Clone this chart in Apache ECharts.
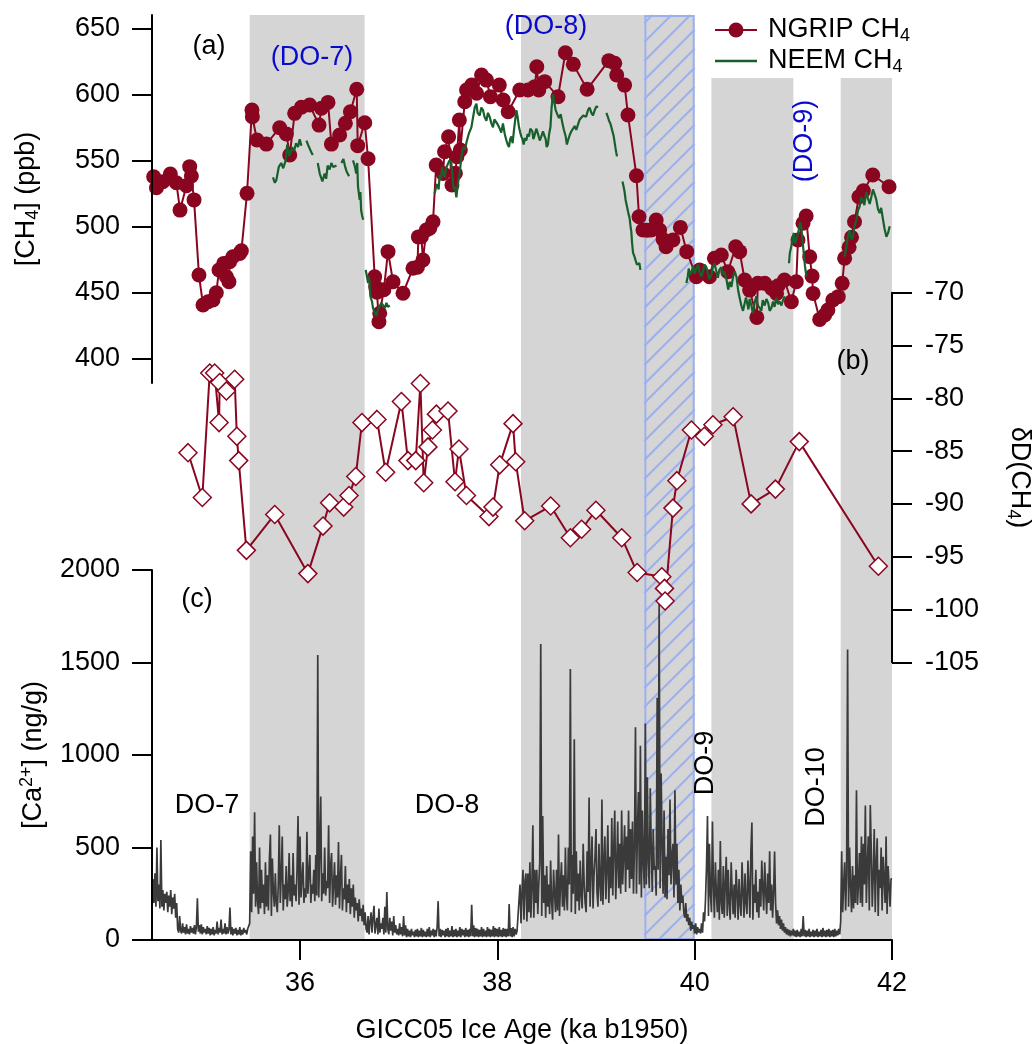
<!DOCTYPE html>
<html>
<head>
<meta charset="utf-8">
<script src="https://cdn.jsdelivr.net/npm/echarts@6/dist/echarts.min.js"></script>
<style>
  html, body { margin: 0; padding: 0; background: #fff; }
  #chart { width: 1035px; height: 1044px; }
</style>
</head>
<body>
<div id="chart"></div>
<script>
// ---- tick values ----
const ageTicks = [36, 38, 40, 42];
const ch4Ticks = [400, 450, 500, 550, 600, 650];

// ---- shaded intervals (ka b1950) ----
const grayBandStart = [35.49, 38.24, 40.17, 41.48];
const grayBandEnd   = [36.655, 39.49, 41.0, 42.0];
const hatchBand     = [39.49, 40.0];

// ---- NGRIP CH4 (ka, ppb) ----
const ngripCH4 = [
  [34.517,537.6],[34.545,529.2],[34.61,533.8],[34.686,539.6],[34.747,533.0],[34.784,512.3],
  [34.849,530.8],[34.882,545.2],[34.899,538.1],[34.926,520],[34.976,463.1],[35.017,440.4],
  [35.068,442.9],[35.118,444.2],[35.152,449.7],[35.179,466.9],[35.227,471.9],[35.254,461.8],
  [35.28,458],[35.287,473.2],[35.32,477],[35.389,479.5],[35.406,481.5],[35.463,525],
  [35.513,588.1],[35.517,583],[35.564,565.4],[35.659,562.3],[35.794,574.7],[35.862,570],
  [35.896,554],[35.946,585.6],[36.014,590.2],[36.098,591.9],[36.193,576.7],[36.217,589.4],
  [36.284,593.9],[36.318,562.3],[36.402,569.2],[36.46,578],[36.511,586.8],[36.575,603.8],
  [36.585,561.1],[36.656,578.5],[36.69,551.2],[36.757,461.8],[36.767,454.2],[36.78,450],
  [36.80,427.7],[36.808,434.1],[36.85,452],[36.892,480.8],[36.943,458],[37.044,449.3],
  [37.145,468.2],[37.19,469],[37.2,492],[37.23,492.1],[37.246,474.5],[37.28,497.2],
  [37.315,498.5],[37.348,503.5],[37.38,546.4],[37.449,540],[37.465,556.5],[37.506,567.9],
  [37.54,531.3],[37.575,540.2],[37.59,552.7],[37.615,580.5],[37.625,557.8],[37.67,594.4],
  [37.688,603.3],[37.74,607],[37.79,600.8],[37.84,614.6],[37.89,610.8],[37.93,598.2],
  [38.02,607],[38.06,595.7],[38.11,586.8],[38.227,603.3],[38.31,603.3],[38.38,605.8],
  [38.40,620.9],[38.42,603.3],[38.48,609.6],[38.615,598.2],[38.69,631.5],[38.77,622.7],
  [38.91,603.8],[39.13,625.5],[39.19,623.5],[39.21,614.6],[39.29,607],[39.324,584.3],
  [39.41,538.3],[39.436,507.3],[39.476,497.2],[39.52,497],[39.56,497.2],[39.61,504.8],
  [39.645,497.2],[39.68,490],[39.71,484.5],[39.78,489.6],[39.855,499.2],[39.92,480.8],
  [40.017,461.8],[40.05,466.9],[40.15,461.8],[40.20,475.8],[40.27,478.3],[40.336,465.6],
  [40.416,484.5],[40.456,480.8],[40.507,459.3],[40.557,451.7],[40.63,431],[40.64,456.8],
  [40.71,456.8],[40.78,453],[40.83,449.2],[40.845,455],[40.91,459.3],[40.98,442.9],
  [41.03,458],[41.047,489.6],[41.098,502.3],[41.13,507.8],[41.166,477],[41.19,462.3],
  [41.2,449.2],[41.267,429.5],[41.318,432.8],[41.35,436.6],[41.4,444.2],[41.455,446.7],
  [41.495,456.8],[41.52,475.8],[41.565,484.1],[41.59,491.7],[41.62,503.5],[41.665,522.4],
  [41.71,527],[41.805,538.9],[41.97,530]
];

// ---- NEEM CH4 (ka, ppb); null marks a gap in the record ----
const neemCH4 = [
  [35.726,537],[35.745,533],[35.76,535],[35.785,545],[35.81,548],[35.83,544],[35.855,550],
  [35.87,562],[35.89,553],[35.905,556],[35.92,560],[35.94,557],[35.96,563],[35.98,560],
  [35.997,566],[36.014,561],[36.04,null],
  [36.065,565],[36.08,562],[36.098,559],[36.115,556],[36.13,554],[36.15,null],
  [36.18,548],[36.2,540],[36.227,534],[36.25,540],[36.265,536],[36.28,546],[36.3,543],
  [36.318,548],[36.335,545],[36.35,544],[36.37,546],[36.39,null],
  [36.42,548],[36.44,551],[36.455,546],[36.47,542],[36.497,538],[36.52,null],
  [36.537,550],[36.554,546],[36.57,540],[36.58,548],[36.588,530],[36.605,520],[36.612,526],
  [36.62,512],[36.63,508],[36.64,505],[36.65,null],
  [36.666,467],[36.69,457],[36.70,462],[36.713,447],[36.73,443],[36.74,438],[36.76,434],
  [36.774,432],[36.79,437],[36.808,436],[36.825,442],[36.84,441],[36.86,438],[36.876,442],
  [36.89,439],[36.91,440],[37.0,null],
  [37.365,525],[37.38,530],[37.39,532],[37.405,528],[37.416,539],[37.43,536],[37.44,545],
  [37.455,540],[37.466,537],[37.48,544],[37.5,543],[37.515,550],[37.534,548],[37.545,538],
  [37.558,528],[37.57,530],[37.585,522],[37.6,532],[37.618,540],[37.635,552],[37.652,560],
  [37.67,558],[37.692,565],[37.71,570],[37.737,575],[37.755,583],[37.771,590],[37.788,593],
  [37.80,586],[37.821,584],[37.838,590],[37.855,588],[37.87,583],[37.889,580],[37.905,586],
  [37.922,583],[37.94,578],[37.956,575],[37.97,581],[37.99,582],[38.005,577],[38.024,574],
  [38.04,571],[38.057,578],[38.075,570],[38.092,565],[38.105,562],[38.118,560],[38.13,566],
  [38.142,568],[38.155,563],[38.166,571],[38.18,580],[38.193,588],[38.205,583],[38.22,575],
  [38.232,571],[38.244,568],[38.255,566],[38.267,562],[38.28,567],[38.294,565],[38.307,570],
  [38.32,568],[38.335,574],[38.355,572],[38.365,566],[38.378,569],[38.395,574],[38.412,570],
  [38.43,565],[38.445,568],[38.463,572],[38.475,569],[38.49,566],[38.5,560],[38.513,562],
  [38.525,570],[38.538,575],[38.55,590],[38.564,600],[38.578,594],[38.591,588],[38.607,585],
  [38.625,582],[38.642,585],[38.66,578],[38.675,573],[38.693,568],[38.705,562],[38.716,565],
  [38.733,569],[38.75,572],[38.767,571],[38.784,576],[38.8,573],[38.817,577],[38.835,581],
  [38.852,580],[38.87,584],[38.885,585],[38.9,583],[38.919,588],[38.935,590],[38.953,586],
  [38.97,584],[38.987,588],[39.005,591],[39.02,590],[39.06,null],
  [39.105,586],[39.12,583],[39.132,580],[39.145,578],[39.156,575],[39.17,571],[39.18,568],
  [39.196,560],[39.205,556],[39.213,553],[39.24,null],
  [39.268,534],[39.28,530],[39.29,526],[39.3,520],[39.314,515],[39.325,511],[39.341,506],
  [39.35,500],[39.358,496],[39.365,488],[39.375,480],[39.39,477],[39.402,474],[39.415,471],
  [39.426,470],[39.44,472],[39.45,467],[39.6,null],
  [39.916,457],[39.93,462],[39.94,468],[39.955,463],[39.967,465],[39.985,470],[40.0,464],
  [40.017,468],[40.035,471],[40.05,465],[40.068,462],[40.085,466],[40.1,471],[40.119,469],
  [40.135,464],[40.15,460],[40.169,463],[40.185,469],[40.2,472],[40.22,466],[40.235,461],
  [40.25,467],[40.27,469],[40.285,463],[40.3,466],[40.322,460],[40.34,452],[40.355,458],
  [40.372,454],[40.39,462],[40.405,466],[40.423,462],[40.44,452],[40.455,446],[40.473,440],
  [40.49,436],[40.507,437],[40.52,446],[40.535,441],[40.545,437],[40.557,445],[40.575,440],
  [40.59,434],[40.608,442],[40.625,447],[40.64,440],[40.66,438],[40.676,436],[40.69,444],
  [40.71,440],[40.727,445],[40.745,442],[40.76,436],[40.777,438],[40.795,443],[40.81,439],
  [40.828,446],[40.845,441],[40.86,443],[40.879,440],[40.895,444],[40.912,447],[40.935,null],
  [40.956,472],[40.965,480],[40.98,485],[40.99,490],[41.004,495],[41.015,487],[41.031,490],
  [41.045,494],[41.057,498],[41.068,503],[41.08,500],[41.09,492],[41.105,480],[41.118,470],
  [41.132,462],[41.3,null],
  [41.52,477],[41.532,482],[41.544,488],[41.558,494],[41.571,497],[41.588,490],[41.605,492],
  [41.62,500],[41.639,505],[41.655,512],[41.672,515],[41.69,522],[41.706,520],[41.72,516],
  [41.74,526],[41.757,521],[41.774,517],[41.79,522],[41.807,528],[41.825,524],[41.841,520],
  [41.858,513],[41.875,510],[41.89,514],[41.909,505],[41.925,498],[41.943,492],[41.96,495],
  [41.977,500]
];

// ---- deltaD of CH4 (ka, permil) ----
const deltaD = [
  [34.865,-85.15],[35.01,-89.4],[35.085,-77.6],[35.135,-77.6],[35.18,-82.3],[35.186,-78.5],
  [35.254,-79.3],[35.338,-78.2],[35.36,-83.6],[35.379,-85.9],[35.457,-94.4],[35.744,-91.0],
  [36.08,-96.6],[36.233,-92.1],[36.3,-89.9],[36.443,-90.3],[36.497,-89.2],[36.565,-87.4],
  [36.628,-82.3],[36.78,-82.0],[36.868,-87.0],[37.028,-80.3],[37.094,-85.9],[37.173,-85.9],
  [37.22,-78.6],[37.254,-88.0],[37.297,-84.6],[37.342,-83.0],[37.382,-81.5],[37.5,-81.2],
  [37.571,-87.9],[37.611,-84.8],[37.687,-89.2],[37.915,-91.2],[37.956,-90.3],[38.024,-86.3],
  [38.159,-82.4],[38.186,-86.0],[38.277,-91.6],[38.54,-90.2],[38.74,-93.2],[38.854,-92.4],
  [38.999,-90.6],[39.261,-93.2],[39.417,-96.5],[39.667,-96.9],[39.694,-98.0],[39.70,-99.2],
  [39.78,-90.4],[39.82,-87.8],[39.967,-83.0],[40.098,-83.6],[40.185,-82.5],[40.39,-81.75],
  [40.572,-90.0],[40.818,-88.6],[41.06,-84.1],[41.862,-95.9]
];

// ---- Ca2+ (ng/g), one value every 0.01 ka from 34.50 ka; rows hold 0.1 ka ----
const caStartAge = 34.5;
const caStep = 0.01;
const caConc = [
  150,330,200,360,180,500,210,300,170,540,   // 34.50
  180,270,160,250,200,260,150,240,180,270,   // 34.60
  140,230,170,250,120,200,60,40,130,50,      // 34.70
  35,90,40,70,30,85,35,60,30,75,             // 34.80
  40,65,35,80,30,70,225,45,80,35,            // 34.90
  85,30,70,40,60,30,75,35,65,25,             // 35.00
  60,30,70,25,55,35,100,30,65,40,            // 35.10
  110,30,60,35,90,30,70,35,55,175,           // 35.20
  30,70,25,60,35,65,25,55,30,70,             // 35.30
  25,55,30,65,40,55,30,60,50,90,             // 35.40
  480,150,560,250,690,180,420,210,140,500,   // 35.50
  170,380,200,300,140,420,180,350,160,440,   // 35.60
  570,130,440,260,180,360,200,150,300,620,   // 35.70
  200,350,560,160,300,220,400,180,260,470,   // 35.80
  210,350,180,470,240,300,210,380,670,190,   // 35.90
  560,230,330,420,200,280,230,585,250,360,   // 36.00
  460,200,300,250,380,210,460,240,1540,230,  // 36.10
  480,775,210,360,250,500,240,320,280,620,   // 36.20
  200,400,470,180,300,420,190,350,230,530,   // 36.30
  170,340,460,160,280,220,400,150,300,200,   // 36.40
  330,140,280,180,300,120,230,160,200,100,   // 36.50
  220,130,170,100,190,80,150,60,40,130,      // 36.60
  30,100,150,40,120,185,35,80,120,30,        // 36.70
  170,40,90,60,120,30,180,40,260,60,         // 36.80
  30,120,50,100,25,130,40,80,30,60,          // 36.90
  25,90,30,70,20,130,25,80,15,60,            // 37.00
  20,50,15,60,25,45,15,55,20,60,             // 37.10
  15,50,20,65,15,55,20,45,15,60,             // 37.20
  20,70,15,50,25,60,15,55,20,70,             // 37.30
  210,20,60,15,55,25,50,15,60,20,            // 37.40
  65,15,50,20,75,15,55,20,60,15,             // 37.50
  50,20,70,15,60,25,55,15,65,20,             // 37.60
  55,15,60,20,190,20,80,15,65,20,            // 37.70
  60,15,55,20,70,15,60,20,50,15,             // 37.80
  70,20,60,15,55,20,75,15,65,20,             // 37.90
  60,15,70,20,55,15,65,20,60,15,             // 38.00
  60,20,195,20,65,15,70,20,60,30,            // 38.10
  50,40,60,300,90,260,380,110,320,360,       // 38.20
  100,360,150,420,120,280,620,120,380,200,   // 38.30
  380,140,300,420,1600,130,670,200,350,120,  // 38.40
  400,180,300,140,430,210,110,380,250,150,   // 38.50
  380,160,570,130,300,420,180,350,160,500,   // 38.60
  240,160,500,300,1465,150,460,250,1085,140, // 38.70
  480,210,360,160,430,240,170,520,300,200,   // 38.80
  150,480,260,770,180,400,560,170,350,450,   // 38.90
  600,260,180,520,300,210,760,190,420,560,   // 39.00
  220,380,620,200,450,280,660,240,500,700,   // 39.10
  220,400,640,280,520,250,700,300,460,620,   // 39.20
  260,560,380,700,280,600,330,640,250,500,   // 39.30
  1150,250,600,800,300,1050,230,700,420,280, // 39.40
  1170,300,880,420,280,820,500,260,600,380,  // 39.50
  400,240,1310,380,1820,280,900,520,250,700, // 39.60
  230,450,220,600,350,760,300,450,520,230,   // 39.70
  810,300,520,200,380,160,300,200,240,150,   // 39.80
  120,200,100,140,80,120,50,100,60,80,       // 39.90
  35,90,30,70,40,60,35,90,40,150,            // 40.00
  100,220,400,670,130,520,250,150,640,300,   // 40.10
  120,420,250,150,380,110,535,200,140,400,   // 40.20
  120,300,450,130,380,200,110,420,260,140,   // 40.30
  300,120,380,260,110,330,200,130,420,260,   // 40.40
  120,360,200,140,430,280,120,480,635,110,   // 40.50
  300,200,380,150,260,120,330,180,430,280,   // 40.60
  160,420,260,140,360,200,480,160,300,120,   // 40.70
  260,478,200,90,160,80,130,60,110,50,       // 40.80
  90,40,70,30,60,25,55,20,50,25,             // 40.90
  60,20,50,15,55,20,45,15,60,20,             // 41.00
  130,20,55,15,50,20,60,15,45,20,            // 41.10
  55,15,50,20,60,15,45,20,55,15,             // 41.20
  65,20,50,15,55,20,60,15,50,20,             // 41.30
  55,15,60,20,50,25,60,30,100,480,           // 41.40
  150,300,420,160,350,1570,180,500,300,150,  // 41.50
  400,170,350,200,810,190,300,470,200,560,   // 41.60
  180,520,300,727,200,400,560,160,730,480,   // 41.70
  180,350,600,150,420,550,130,380,280,500,   // 41.80
  160,450,330,200,560,140,400,300,180,330,   // 41.90
  330                                        // 42.00
];

// ---- styling ----
const FONT = '"Liberation Sans", Arial, Helvetica, sans-serif';
const FS = 27;
const RED = '#8a0620';
const GREEN = '#17602c';
const CA_GRAY = '#3a3a3a';
const BAND_GRAY = '#d5d5d5';
const HATCH_BLUE = '#9cb0ee';
const DO_BLUE = '#0a0acc';
const AX = { color: '#000', width: 2 };
const PLOT_LEFT = 152, PLOT_WIDTH = 740;

const chart = echarts.init(document.getElementById('chart'), null, { renderer: 'canvas' });

const subRich = {
  sub: { fontSize: 18, fontFamily: FONT, color: '#000', verticalAlign: 'bottom', lineHeight: 10 },
  sup: { fontSize: 18, fontFamily: FONT, color: '#000', verticalAlign: 'top', lineHeight: 10 }
};
const nameStyle = { fontSize: FS, fontFamily: FONT, color: '#000', lineHeight: 31, rich: subRich };
const labelStyle = { fontSize: FS, fontFamily: FONT, color: '#000', formatter: v => String(v) };

function hiddenX(gi) {
  return { gridIndex: gi, type: 'value', min: 34.5, max: 42, show: false };
}

// gray bands: the two after the hatched interval start lower, below the legend
function renderBand(params, api) {
  const s = api.value(0), e = api.value(1), reachesTop = api.value(2);
  const p0 = api.coord([s, 1]);
  const p1 = api.coord([e, 0]);
  const top = reachesTop ? p0[1] : p0[1] + 63;
  return {
    type: 'rect',
    shape: { x: p0[0], y: top, width: p1[0] - p0[0], height: p1[1] - top },
    style: { fill: BAND_GRAY }
  };
}

function renderHatch(params, api) {
  const p0 = api.coord([api.value(0), 1]);
  const p1 = api.coord([api.value(1), 0]);
  const x0 = p0[0], x1 = p1[0], y0 = p0[1], y1 = p1[1], w = x1 - x0;
  const children = [{ type: 'rect', shape: { x: x0, y: y0, width: w, height: y1 - y0 }, style: { fill: BAND_GRAY } }];
  for (let c = y0 + 8; c < y1 + w; c += 19) {
    const xa = Math.max(x0, x0 + c - y1);
    const xb = Math.min(x1, x0 + c - y0);
    if (xb > xa) {
      children.push({
        type: 'line',
        shape: { x1: xa, y1: c - (xa - x0), x2: xb, y2: c - (xb - x0) },
        style: { stroke: HATCH_BLUE, lineWidth: 2 }
      });
    }
  }
  children.push({ type: 'rect', shape: { x: x0 + 1, y: y0 + 1, width: w - 2, height: y1 - y0 - 2 }, style: { fill: 'none', stroke: HATCH_BLUE, lineWidth: 2 } });
  return { type: 'group', children };
}

function txt(text, x, y, color, rot) {
  return {
    type: 'text', x, y, rotation: rot || 0, z: 100,
    style: { text, font: `${FS}px ${FONT}`, fill: color || '#000', textAlign: 'center', textVerticalAlign: 'middle', align: 'center', verticalAlign: 'middle' }
  };
}

const option = {
  animation: false,
  backgroundColor: '#fff',
  textStyle: { fontFamily: FONT },
  grid: [
    { left: PLOT_LEFT, width: PLOT_WIDTH, top: 15, height: 368, outerBoundsMode: 'none' },
    { left: PLOT_LEFT, width: PLOT_WIDTH, top: 292.7, height: 369.6, outerBoundsMode: 'none' },
    { left: PLOT_LEFT, width: PLOT_WIDTH, top: 570, height: 370, outerBoundsMode: 'none' },
    { left: PLOT_LEFT, width: PLOT_WIDTH, top: 15, height: 925, outerBoundsMode: 'none' }
  ],
  xAxis: [
    hiddenX(0),
    hiddenX(1),
    {
      gridIndex: 2, type: 'value', min: 34.5, max: 42, z: 5,
      axisLine: { show: true, onZero: false, lineStyle: AX },
      axisTick: { show: true, inside: false, length: 20, lineStyle: AX, customValues: ageTicks },
      axisLabel: { show: true, margin: 30, customValues: ageTicks, ...labelStyle },
      splitLine: { show: false },
      name: 'GICC05 Ice Age (ka b1950)', nameLocation: 'middle', nameGap: 75,
      nameTextStyle: nameStyle
    },
    hiddenX(3)
  ],
  yAxis: [
    {
      gridIndex: 0, type: 'value', min: 381.3, max: 660.1, position: 'left', z: 5,
      axisLine: { show: true, lineStyle: AX },
      axisTick: { show: true, length: 20, lineStyle: AX, customValues: ch4Ticks },
      axisLabel: { show: true, margin: 32, customValues: ch4Ticks, ...labelStyle },
      splitLine: { show: false },
      name: '[CH{sub|4}] (ppb)', nameLocation: 'middle', nameRotate: 90, nameGap: 110,
      nameTextStyle: nameStyle
    },
    {
      gridIndex: 1, type: 'value', min: -105, max: -70, interval: 5, position: 'right', z: 5,
      axisLine: { show: true, lineStyle: AX },
      axisTick: { show: true, length: 20, lineStyle: AX },
      axisLabel: { show: true, margin: 33, ...labelStyle },
      splitLine: { show: false },
      name: 'δD(CH{sub|4})', nameLocation: 'middle', nameRotate: -90, nameGap: 112,
      nameTextStyle: nameStyle
    },
    {
      gridIndex: 2, type: 'value', min: 0, max: 2000, interval: 500, position: 'left', z: 5,
      axisLine: { show: true, lineStyle: AX },
      axisTick: { show: true, length: 20, lineStyle: AX },
      axisLabel: { show: true, margin: 32, ...labelStyle },
      splitLine: { show: false },
      name: '[Ca{sup|2+}] (ng/g)', nameLocation: 'middle', nameRotate: 90, nameGap: 100,
      nameTextStyle: nameStyle
    },
    { gridIndex: 3, type: 'value', min: 0, max: 1, show: false }
  ],
  series: [
    {
      type: 'custom', name: 'bands', xAxisIndex: 3, yAxisIndex: 3, z: 1, silent: true,
      renderItem: renderBand,
      data: grayBandStart.map((s, i) => [s, grayBandEnd[i], i < 2 ? 1 : 0])
    },
    {
      type: 'custom', name: 'hatch', xAxisIndex: 3, yAxisIndex: 3, z: 1, silent: true,
      renderItem: renderHatch,
      data: [hatchBand]
    },
    {
      type: 'line', name: 'Ca', xAxisIndex: 2, yAxisIndex: 2, z: 2,
      showSymbol: false, symbol: 'none', sampling: null,
      lineStyle: { color: CA_GRAY, width: 1.7 },
      data: caConc.map((v, i) => [+(caStartAge + i * caStep).toFixed(2), v])
    },
    {
      type: 'line', name: 'NGRIP CH4', xAxisIndex: 0, yAxisIndex: 0, z: 3,
      symbol: 'circle', symbolSize: 15, showSymbol: true,
      itemStyle: { color: RED },
      lineStyle: { color: RED, width: 2 },
      data: ngripCH4
    },
    {
      type: 'line', name: 'NEEM CH4', xAxisIndex: 0, yAxisIndex: 0, z: 4,
      symbol: 'none', connectNulls: false,
      lineStyle: { color: GREEN, width: 2.2 },
      data: neemCH4.map(d => [d[0], d[1] === null ? '-' : d[1]])
    },
    {
      type: 'line', name: 'dD', xAxisIndex: 1, yAxisIndex: 1, z: 5,
      symbol: 'diamond', symbolSize: 18, showSymbol: true,
      itemStyle: { color: '#fff', borderColor: RED, borderWidth: 1.5 },
      lineStyle: { color: RED, width: 2 },
      data: deltaD
    }
  ],
  graphic: [
    // legend
    { type: 'line', z: 100, shape: { x1: 715, y1: 30, x2: 757, y2: 30 }, style: { stroke: RED, lineWidth: 2 } },
    { type: 'circle', z: 101, shape: { cx: 736, cy: 30, r: 7.5 }, style: { fill: RED } },
    {
      type: 'text', z: 100, x: 768, y: 30,
      style: { text: 'NGRIP CH{sub|4}', font: `${FS}px ${FONT}`, fill: '#000', textVerticalAlign: 'middle', verticalAlign: 'middle', lineHeight: 31, rich: subRich }
    },
    { type: 'line', z: 100, shape: { x1: 715, y1: 61, x2: 757, y2: 61 }, style: { stroke: GREEN, lineWidth: 2.5 } },
    {
      type: 'text', z: 100, x: 768, y: 61,
      style: { text: 'NEEM CH{sub|4}', font: `${FS}px ${FONT}`, fill: '#000', textVerticalAlign: 'middle', verticalAlign: 'middle', lineHeight: 31, rich: subRich }
    },
    // panel letters
    txt('(a)', 209, 47),
    txt('(b)', 853, 362),
    txt('(c)', 197, 600),
    // event labels
    txt('(DO-7)', 312, 58, DO_BLUE),
    txt('(DO-8)', 546, 27, DO_BLUE),
    txt('(DO-9)', 805, 141, DO_BLUE, Math.PI / 2),
    txt('DO-7', 207, 806),
    txt('DO-8', 447, 806),
    txt('DO-9', 706, 763, '#000', Math.PI / 2),
    txt('DO-10', 817, 787, '#000', Math.PI / 2)
  ]
};

chart.setOption(option);
</script>
</body>
</html>
